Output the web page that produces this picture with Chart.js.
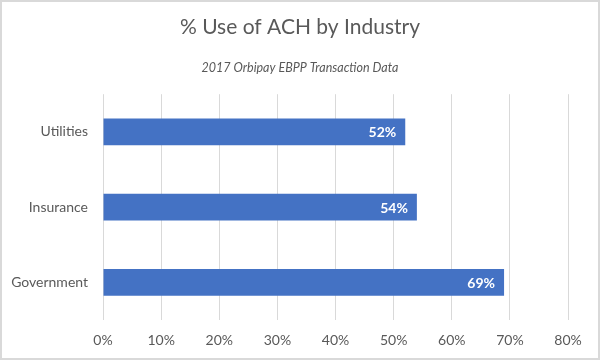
<!DOCTYPE html>
<html>
<head>
<meta charset="utf-8">
<script src="https://cdn.jsdelivr.net/npm/chart.js@4"></script>
<style>
  body { margin: 0; background: #fff; }
  #wrap { width: 600px; height: 360px; box-sizing: border-box; border: 2px solid #d9d9d9; position: relative; }
</style>
</head>
<body>
<div id="wrap"><canvas id="ach"></canvas></div>
<script>
Chart.defaults.color = '#595959';
Chart.defaults.font.family = 'Lato';

// data
const industries = ['Utilities', 'Insurance', 'Government'];
const achUse = [52, 54, 69];
const tickValues = [0, 10, 20, 30, 40, 50, 60, 70, 80];

// white value labels at the end of each bar
const barLabels = {
    id: 'barLabels',
    afterDatasetsDraw(chart) {
        const ctx = chart.ctx;
        const meta = chart.getDatasetMeta(0);
        ctx.save();
        ctx.fillStyle = '#ffffff';
        ctx.font = 'bold 14px Lato';
        ctx.textAlign = 'right';
        ctx.textBaseline = 'middle';
        meta.data.forEach((bar, i) => {
            ctx.fillText(achUse[i] + '%', bar.x - 9, bar.y + 1);
        });
        ctx.restore();
    }
};

const chart = new Chart(document.getElementById('ach'), {
    type: 'bar',
    data: {
        labels: industries,
        datasets: [{
            data: achUse,
            backgroundColor: '#4472c4',
            borderWidth: 0,
            categoryPercentage: 1,
            barPercentage: 0.357
        }]
    },
    options: {
        indexAxis: 'y',
        responsive: true,
        maintainAspectRatio: false,
        animation: false,
        layout: { padding: { left: 0, right: 0, bottom: 9 } },
        plugins: {
            legend: { display: false },
            tooltip: { enabled: false },
            title: {
                display: true,
                text: '% Use of ACH by Industry',
                color: '#595959',
                font: { size: 21, weight: 'normal' },
                padding: { top: 13, bottom: 10 }
            },
            subtitle: {
                display: true,
                text: '2017 Orbipay EBPP Transaction Data',
                color: '#595959',
                font: { size: 12.5, style: 'italic' },
                padding: { top: 10, bottom: 19 }
            }
        },
        scales: {
            x: {
                min: 0,
                max: 80,
                afterBuildTicks: (scale) => { scale.ticks = tickValues.map(v => ({ value: v })); },
                afterFit: (scale) => { scale.height = 29; },
                ticks: {
                    callback: (v) => v + '%',
                    font: { size: 14 },
                    padding: 12
                },
                grid: { color: '#d9d9d9', drawTicks: false },
                border: { display: false }
            },
            y: {
                afterFit: (scale) => { scale.width = 101; },
                ticks: { font: { size: 14 }, padding: 15 },
                grid: { display: false, drawTicks: false },
                border: { display: false }
            },
            // empty right-hand axis, only reserves the right margin
            yPad: {
                type: 'linear',
                position: 'right',
                afterFit: (scale) => { scale.width = 30; },
                ticks: { display: false },
                grid: { display: false, drawTicks: false },
                border: { display: false }
            }
        }
    },
    plugins: [barLabels]
});
</script>
</body>
</html>
